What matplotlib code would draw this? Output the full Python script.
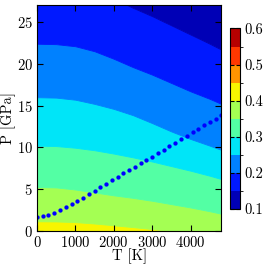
import numpy as np
import matplotlib
matplotlib.use('Agg')
import matplotlib.pyplot as plt
from matplotlib.colors import ListedColormap, BoundaryNorm
from matplotlib.cm import ScalarMappable

plt.rcParams['font.family'] = ['cmr10', 'DejaVu Serif']
plt.rcParams['axes.formatter.use_mathtext'] = True
plt.rcParams['font.size'] = 10.5

# contour levels of the colour bar
levels = [0.1, 0.15, 0.2, 0.25, 0.3, 0.35, 0.4, 0.45, 0.5, 0.55, 0.6]

T_grid = [0, 500, 1000, 1500, 2000, 2500, 3000, 3500, 4000, 4500, 4800]

# pressure (GPa) of each contour line along T_grid
P_040 = [1.15, 1.13, 1.05, 0.88, 0.67, 0.45, 0.22, 0.0, 0.0, 0.0, 0.0]
P_035 = [5.25, 5.2, 4.95, 4.6, 4.25, 3.95, 3.6, 3.2, 2.8, 2.35, 2.05]
P_030 = [10.2, 10.15, 9.95, 9.65, 9.25, 8.8, 8.3, 7.75, 7.2, 6.6, 6.2]
P_025 = [16.0, 15.95, 15.7, 15.2, 14.6, 13.85, 12.9, 11.9, 11.0, 10.2, 9.7]
P_020 = [22.4, 22.35, 22.1, 21.5, 20.6, 19.6, 18.7, 17.7, 16.7, 15.8, 15.2]
P_015 = [30.0, 29.8, 29.4, 28.7, 27.8, 26.7, 25.7, 24.6, 23.5, 22.4, 21.7]

# dotted curve
T_dots = [0, 150, 300, 450, 600, 750, 900, 1050, 1200, 1350, 1500, 1650, 1800,
          1950, 2100, 2250, 2400, 2550, 2700, 2850, 3000, 3150, 3300, 3450,
          3600, 3750, 3900, 4050, 4200, 4350, 4500, 4650, 4800]
P_dots = [1.69, 1.77, 1.93, 2.17, 2.49, 2.85, 3.21, 3.57, 3.97, 4.37, 4.81,
          5.21, 5.61, 6.05, 6.49, 6.89, 7.29, 7.69, 8.13, 8.49, 8.89, 9.33,
          9.73, 10.13, 10.57, 10.97, 11.37, 11.81, 12.21, 12.65, 13.05, 13.44,
          13.85]

jet = plt.get_cmap('jet')
mids = [(a + b) / 2 for a, b in zip(levels[:-1], levels[1:])]
colors = [jet((m - levels[0]) / (levels[-1] - levels[0])) for m in mids]

fig = plt.figure(figsize=(2.66, 2.66), dpi=100)
ax = fig.add_axes([0.139, 0.132, 0.693, 0.848])

bottom = [0.0] * len(T_grid)
top = [40.0] * len(T_grid)
# bands from highest value (bottom) to lowest (top)
bounds = [bottom, P_040, P_035, P_030, P_025, P_020, P_015, top]
band_colors = [colors[6], colors[5], colors[4], colors[3], colors[2], colors[1], colors[0]]
for lo, hi, c in zip(bounds[:-1], bounds[1:], band_colors):
    ax.fill_between(T_grid, lo, hi, facecolor=c, edgecolor=c, linewidth=0.6)

ax.plot(T_dots, P_dots, 'o', color='#0000ff', markersize=3.1, markeredgewidth=0)

ax.set_xlim(0, 4800)
ax.set_ylim(0, 27)
ax.set_xticks([0, 1000, 2000, 3000, 4000])
ax.set_yticks([0, 5, 10, 15, 20, 25])
ax.tick_params(direction='in', top=True, right=True, length=4, width=0.8, pad=3)
ax.set_xlabel('T [K]', labelpad=-1)
ax.set_ylabel('P [GPa]')
ax.yaxis.set_label_coords(-0.112, 0.5)

cax = fig.add_axes([0.865, 0.214, 0.0365, 0.679])
sm = ScalarMappable(norm=BoundaryNorm(levels, len(colors)), cmap=ListedColormap(colors))
cb = fig.colorbar(sm, cax=cax, ticks=[0.1, 0.2, 0.3, 0.4, 0.5, 0.6])
cb.ax.tick_params(direction='in', length=3, width=0.8, left=True, right=True)
cb.ax.set_yticklabels(['0.1', '0.2', '0.3', '0.4', '0.5', '0.6'])

fig.savefig('out.png', dpi=100)
